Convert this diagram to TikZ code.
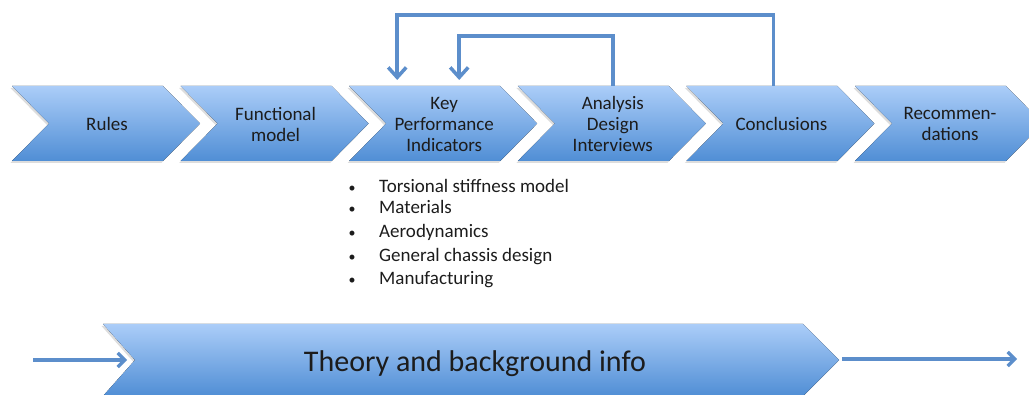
\documentclass[tikz,border=0pt]{standalone}
\usepackage{fontspec}
\setmainfont{Carlito}
\usetikzlibrary{positioning,arrows.meta,shadows,calc}
\definecolor{chevtop}{RGB}{171,205,248}
\definecolor{chevbot}{RGB}{80,142,213}
\definecolor{loopblue}{RGB}{92,142,203}
\definecolor{labeltext}{RGB}{28,28,28}
\tikzset{
  chevron/.style={top color=chevtop, bottom color=chevbot, draw=none,
    drop shadow={shadow xshift=-1.5pt, shadow yshift=-2pt, opacity=0.22, fill=black!60}},
  stage/.style={align=center, text=labeltext, inner sep=0pt, font=\fontsize{19}{21}\selectfont},
  kpiitem/.style={anchor=base west, text=labeltext, inner sep=0pt, font=\fontsize{19}{21}\selectfont},
  kpibullet/.style={anchor=base, text=labeltext, inner sep=0pt, font=\fontsize{14}{16}\selectfont},
  feedback/.style={line width=3.5pt, draw=loopblue, -{Straight Barb[length=10pt,width=18pt]}},
  timeline/.style={line width=3.3pt, draw=loopblue, -{Straight Barb[length=7pt,width=14pt]}}
}

\begin{document}
\begin{tikzpicture}[x=1pt, y=1pt]
    \useasboundingbox (0,0) rectangle (1029,394);

    % process stages
    \foreach \name/\txt [count=\i from 0] in {rules/Rules, func/{Functional\\model},
        kpi/{Key\\Performance\\Indicators}, ana/{Analysis\\Design\\Interviews},
        concl/Conclusions, rec/{Recommen-\\dations}} {
      \pgfmathsetmacro{\xl}{12+168.6*\i}
      \fill[chevron] (\xl,308) -- ++(151,0) -- ++(37,-37.5) -- ++(-37,-37.5)
        -- ++(-151,0) -- ++(37,37.5) -- cycle;
      \node[stage] (\name) at (\xl+95,270) {\txt};
      \coordinate (\name-top) at (\xl+95,308);
    }

    % loops back to the KPIs
    \draw[feedback] ([xshift=-8pt]concl-top) -- ++(0,71) -| ([xshift=-47pt,yshift=6pt]kpi-top);
    \draw[feedback] (ana-top) -- ++(0,50) -| ([xshift=15pt,yshift=6pt]kpi-top);

    % KPI list
    \foreach \txt/\y [count=\j] in {Torsional stiffness model/201, Materials/180,
        Aerodynamics/156, General chassis design/132, Manufacturing/109} {
      \node[kpibullet] (bul-\j) at (352,\y) {\textbullet};
      \node[kpiitem] (kpi-\j) at (379,\y) {\txt};
    }

    % background band
    \fill[chevron] (103,70) -- (803,70) -- (839,34) -- (803,-2) -- (103,-2) -- (135,34) -- cycle;
    \coordinate (notch) at (135,34);
    \coordinate (tip) at (839,34);
    \node[anchor=base, text=labeltext, inner sep=0pt, font=\fontsize{30}{32}\selectfont]
      (theory) at (475,23) {Theory and background info};

    \coordinate (in-start) at (33,34);
    \coordinate (out-end) at (1017,35);
    \draw[timeline] (in-start) -- ([xshift=-8pt]notch);
    \draw[timeline] ([xshift=3pt,yshift=1pt]tip) -- (out-end);
\end{tikzpicture}
\end{document}
